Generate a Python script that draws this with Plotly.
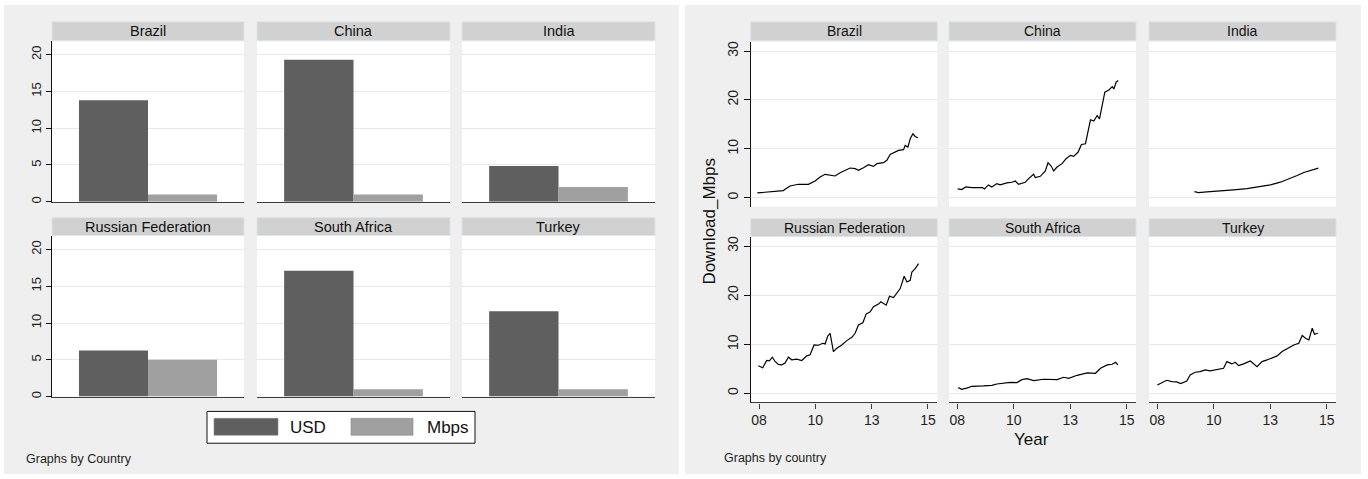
import plotly.graph_objects as go

# ---------------------------------------------------------------- data
countries = ["Brazil", "China", "India", "Russian Federation", "South Africa", "Turkey"]

# Bar panels: monthly price (USD) and speed (Mbps) by country
usd = [13.8, 19.3, 4.85, 6.25, 17.1, 11.6]
mbps = [1.0, 1.0, 2.0, 5.0, 1.0, 1.0]

# Line panels: download speed over time, x as a Stata daily date (days since 1 Jan 1960)
brazil_day = [17673, 17876, 18089, 18116, 18196, 18329, 18489, 18596, 18676, 18756, 18836,
              18916, 18996, 19103, 19156, 19236, 19289, 19369, 19449, 19529, 19583, 19689,
              19743, 19796, 19876, 19929, 20009, 20036, 20079, 20116, 20159, 20196, 20239]
brazil_mbps = [0.95, 1.16, 1.43, 1.70, 2.38, 2.72, 2.72, 3.40, 4.22, 4.76, 4.56,
               4.42, 5.10, 5.78, 6.05, 5.92, 5.58, 6.12, 6.73, 6.39, 6.94, 7.14,
               7.62, 8.84, 9.32, 9.66, 9.80, 10.68, 10.34, 12.04, 13.06, 12.52, 12.24]

china_day = [17706, 17770, 17834, 17930, 18100, 18132, 18196, 18250, 18330, 18383, 18490,
             18570, 18623, 18676, 18783, 18836, 18916, 18943, 19023, 19103, 19146, 19199,
             19236, 19290, 19370, 19434, 19503, 19556, 19626, 19679, 19743, 19786, 19823,
             19876, 19930, 19967, 19999, 20052, 20116, 20170, 20196, 20234, 20266]
china_mbps = [1.77, 1.63, 2.18, 2.04, 2.04, 1.77, 2.59, 2.18, 2.86, 2.59, 3.00,
              3.13, 3.40, 2.72, 3.13, 3.88, 4.76, 4.08, 4.35, 5.44, 7.14, 6.39,
              5.44, 6.26, 6.94, 7.96, 8.64, 8.44, 9.32, 10.88, 11.02, 13.40, 15.92,
              15.65, 16.80, 16.12, 18.16, 21.56, 22.04, 22.72, 22.24, 23.67, 23.95]

india_day = [18292, 18356, 18490, 18703, 18916, 19129, 19343, 19503, 19663, 19796, 19929,
             20036, 20143, 20266]
india_mbps = [1.23, 1.03, 1.16, 1.30, 1.58, 1.85, 2.26, 2.60, 3.15, 3.77, 4.52,
              5.14, 5.55, 6.03]

russia_day = [17689, 17727, 17759, 17823, 17865, 17913, 17956, 18009, 18063, 18116, 18169,
              18223, 18303, 18383, 18463, 18516, 18580, 18649, 18719, 18756, 18799, 18836,
              18863, 18889, 18943, 19023, 19103, 19183, 19236, 19289, 19359, 19412, 19476,
              19529, 19609, 19647, 19732, 19785, 19849, 19903, 19956, 20020, 20063, 20116,
              20143, 20196, 20249]
russia_mbps = [5.61, 5.34, 5.20, 6.69, 6.62, 7.36, 6.49, 5.88, 5.81, 6.15, 7.36,
               6.82, 6.96, 6.69, 7.64, 7.84, 9.86, 9.80, 10.20, 10.07, 11.69, 12.23,
               10.20, 8.51, 9.19, 9.86, 10.74, 11.42, 12.23, 13.92, 14.39, 16.15, 16.62,
               17.64, 18.18, 18.65, 17.97, 19.80, 19.53, 20.47, 21.35, 23.85, 22.70, 23.04,
               24.73, 25.41, 26.42]

south_africa_day = [17716, 17770, 17876, 17930, 18116, 18250, 18330, 18543, 18650, 18730,
                    18810, 18916, 19076, 19290, 19396, 19476, 19610, 19770, 19903, 19983,
                    20090, 20170, 20223, 20260]
south_africa_mbps = [1.16, 0.82, 1.16, 1.43, 1.50, 1.63, 1.90, 2.24, 2.18, 2.79,
                     2.99, 2.59, 2.86, 2.79, 3.27, 3.06, 3.67, 4.15, 4.08, 5.10,
                     5.78, 5.92, 6.33, 5.78]

turkey_day = [17700, 17770, 17850, 17930, 18010, 18073, 18169, 18223, 18303, 18383, 18463,
              18543, 18650, 18756, 18809, 18889, 18943, 18996, 19076, 19183, 19290, 19370,
              19450, 19530, 19610, 19690, 19796, 19876, 19956, 20010, 20063, 20116, 20170,
              20206, 20260]
turkey_mbps = [1.70, 2.18, 2.65, 2.38, 2.31, 1.97, 2.52, 3.74, 4.29, 4.42, 4.76,
               4.56, 4.76, 5.10, 6.46, 5.99, 6.33, 5.65, 5.99, 6.60, 5.44, 6.46,
               6.80, 7.28, 7.62, 8.50, 9.18, 9.86, 10.20, 11.77, 11.22, 10.88, 13.27,
               12.04, 12.24]

series_day = [brazil_day, china_day, india_day, russia_day, south_africa_day, turkey_day]
series_mbps = [brazil_mbps, china_mbps, india_mbps, russia_mbps, south_africa_mbps, turkey_mbps]

year_tick_days = [17700, 18600, 19500, 20400]
year_tick_text = ["08", "10", "13", "15"]

# ---------------------------------------------------------------- style / geometry
W, H = 1368, 479
FONT = "Arial, 'Liberation Sans', sans-serif"
TXT = "#1e1e1e"
C_USD = "#5f5f5f"
C_MBPS = "#a0a0a0"
GRID = "#e8e8e8"
AXIS = "#3c3c3c"
STRIP = "#d1d1d1"
STRIP_EDGE = "#dbe4ea"
PANEL = "#efefef"


def fx(px):
    return px / W


def fy(py):
    return 1 - py / H


bar_cols = [(52, 244), (257, 450), (462, 655)]
bar_rows = [(40, 202), (236, 398)]
bar_strips = [(21, 40), (218, 236)]

line_cols = [(750.7, 937.3), (949, 1136), (1149, 1336)]
line_rows = [(41, 207), (237.3, 404)]
line_strips = [(21, 40), (219, 237)]

fig = go.Figure()
layout = {}
shapes = []
annotations = []

# gray backgrounds of the two graphs
for x0, x1 in [(4, 679), (685, 1361)]:
    shapes.append(dict(type="rect", xref="paper", yref="paper", x0=fx(x0), x1=fx(x1),
                       y0=fy(476), y1=fy(4), fillcolor=PANEL, line=dict(width=0), layer="below"))


def axis_keys(n):
    return ("x" if n == 1 else f"x{n}", "y" if n == 1 else f"y{n}",
            "xaxis" if n == 1 else f"xaxis{n}", "yaxis" if n == 1 else f"yaxis{n}")


def add_plot_bg(x0, x1, y0, y1):
    shapes.append(dict(type="rect", xref="paper", yref="paper", x0=fx(x0), x1=fx(x1),
                       y0=fy(y1), y1=fy(y0), fillcolor="white", line=dict(width=0),
                       layer="below"))


def add_strip(label, x0, x1, y0, y1, size):
    shapes.append(dict(type="rect", xref="paper", yref="paper", x0=fx(x0), x1=fx(x1),
                       y0=fy(y1), y1=fy(y0), fillcolor=STRIP,
                       line=dict(color=STRIP_EDGE, width=1), layer="below"))
    annotations.append(dict(text=label, xref="paper", yref="paper", x=fx((x0 + x1) / 2),
                            y=fy((y0 + y1) / 2), showarrow=False, xanchor="center",
                            yanchor="middle", font=dict(family=FONT, size=size, color="#111")))


# ---------------------------------------------------------------- bar graph (left)
for i, country in enumerate(countries):
    r, c = divmod(i, 3)
    n = i + 1
    xa, ya, xk, yk = axis_keys(n)
    (x0, x1), (y0, y1) = bar_cols[c], bar_rows[r]
    add_plot_bg(x0, x1, y0, y1)
    fig.add_trace(go.Bar(x=[0.5], y=[usd[i]], width=1, name="USD", marker_color=C_USD,
                         marker_line_width=0, xaxis=xa, yaxis=ya, showlegend=False))
    fig.add_trace(go.Bar(x=[1.5], y=[mbps[i]], width=1, name="Mbps", marker_color=C_MBPS,
                         marker_line_width=0, xaxis=xa, yaxis=ya, showlegend=False))
    layout[xk] = dict(domain=[fx(x0), fx(x1)], range=[-0.391, 2.391], anchor=ya,
                      showgrid=False, zeroline=False, showticklabels=False, ticks="",
                      showline=True, linecolor=AXIS, linewidth=1.3, fixedrange=True)
    layout[yk] = dict(domain=[fy(y1), fy(y0)], range=[0, 21.9], anchor=xa,
                      tickvals=[0, 5, 10, 15, 20], showgrid=True, gridcolor=GRID, gridwidth=1.2,
                      zeroline=False, showline=(c == 0), linecolor="#111", linewidth=1.3,
                      ticks="outside" if c == 0 else "", ticklen=5, tickcolor="#111",
                      showticklabels=(c == 0), tickangle=-90,
                      tickfont=dict(family=FONT, size=13, color=TXT), fixedrange=True)
    sy0, sy1 = bar_strips[r]
    add_strip(country, x0, x1, sy0, sy1, 14.5)

# legend box of the bar graph
shapes.append(dict(type="rect", xref="paper", yref="paper", x0=fx(207), x1=fx(475),
                   y0=fy(445), y1=fy(413), fillcolor="white", line=dict(color="#111", width=1)))
for (sx0, sx1, tx, label, color) in [(214, 278, 288, "USD", C_USD), (351, 413, 425, "Mbps", C_MBPS)]:
    shapes.append(dict(type="rect", xref="paper", yref="paper", x0=fx(sx0), x1=fx(sx1),
                       y0=fy(437), y1=fy(420), fillcolor=color, line=dict(color="#8a8a8a", width=0.6)))
    annotations.append(dict(text=label, xref="paper", yref="paper", x=fx(tx), y=fy(429),
                            showarrow=False, xanchor="left", yanchor="middle",
                            font=dict(family=FONT, size=17, color="#111")))

annotations.append(dict(text="Graphs by Country", xref="paper", yref="paper", x=fx(24), y=fy(461),
                        showarrow=False, xanchor="left", yanchor="middle",
                        font=dict(family=FONT, size=12.5, color=TXT)))

# ---------------------------------------------------------------- line graph (right)
for i, country in enumerate(countries):
    r, c = divmod(i, 3)
    n = i + 7
    xa, ya, xk, yk = axis_keys(n)
    (x0, x1), (y0, y1) = line_cols[c], line_rows[r]
    add_plot_bg(x0, x1, y0, y1)
    fig.add_trace(go.Scatter(x=series_day[i], y=series_mbps[i], mode="lines", name=country,
                             line=dict(color="#000", width=1.2), xaxis=xa, yaxis=ya,
                             showlegend=False))
    bottom = (r == 1)
    layout[xk] = dict(domain=[fx(x0), fx(x1)], range=[17567, 20549], anchor=ya,
                      tickvals=year_tick_days, ticktext=year_tick_text, showgrid=False,
                      zeroline=False, showline=bottom, linecolor=AXIS, linewidth=1.3,
                      ticks="outside" if bottom else "", ticklen=5, tickcolor=AXIS,
                      showticklabels=bottom, tickfont=dict(family=FONT, size=14, color=TXT),
                      fixedrange=True)
    layout[yk] = dict(domain=[fy(y1), fy(y0)], range=[-1.87, 31.9], anchor=xa,
                      tickvals=[0, 10, 20, 30], showgrid=True, gridcolor=GRID, gridwidth=1.2,
                      zeroline=False, showline=(c == 0), linecolor="#111", linewidth=1.3,
                      ticks="outside" if c == 0 else "", ticklen=6, tickcolor="#111",
                      showticklabels=(c == 0), tickangle=-90,
                      tickfont=dict(family=FONT, size=14, color=TXT), fixedrange=True)
    sy0, sy1 = line_strips[r]
    add_strip(country, x0, x1, sy0, sy1, 14)

annotations.append(dict(text="Download_Mbps", xref="paper", yref="paper", x=fx(710), y=fy(222),
                        showarrow=False, textangle=-90, xanchor="center", yanchor="middle",
                        font=dict(family=FONT, size=17, color="#111")))
annotations.append(dict(text="Year", xref="paper", yref="paper", x=fx(1031), y=fy(441),
                        showarrow=False, xanchor="center", yanchor="middle",
                        font=dict(family=FONT, size=17, color="#111")))
annotations.append(dict(text="Graphs by country", xref="paper", yref="paper", x=fx(722), y=fy(460),
                        showarrow=False, xanchor="left", yanchor="middle",
                        font=dict(family=FONT, size=12.5, color=TXT)))

layout.update(dict(width=W, height=H, margin=dict(l=0, r=0, t=0, b=0),
                   paper_bgcolor="white", plot_bgcolor="white", barmode="overlay",
                   showlegend=False, shapes=shapes, annotations=annotations,
                   font=dict(family=FONT, color=TXT)))
fig.update_layout(**layout)
fig.write_html("out.html", config={"displayModeBar": False})
